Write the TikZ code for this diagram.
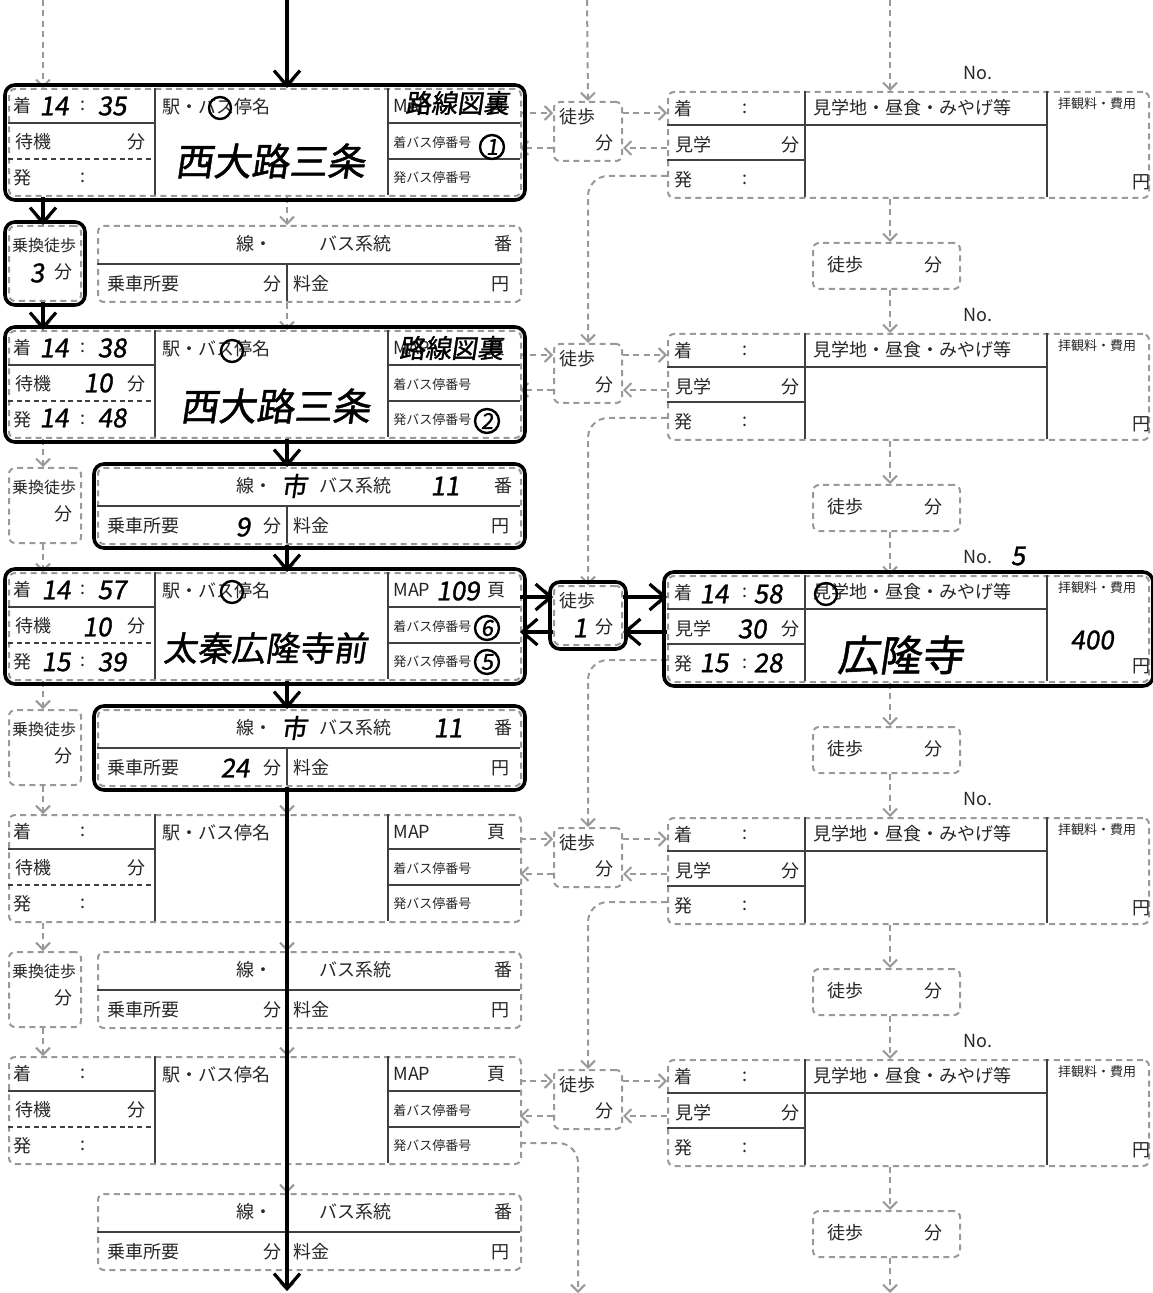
\documentclass[tikz,border=0pt]{standalone}
\usepackage{fontspec}
\setmainfont{Noto Sans CJK JP}
\newfontfamily\handfont[FakeBold=1.2,FakeSlant=0.15]{Noto Sans CJK JP}
\usetikzlibrary{arrows.meta, positioning, fit, calc}

\begin{document}
\begin{tikzpicture}[
    x=0.5pt, y=-0.5pt,
    every node/.style={font=\fontsize{9}{10}\selectfont, text=black!85, inner sep=0pt},
    formbox/.style={draw=black!40, line width=1pt, dash pattern=on 3pt off 2.2pt, rounded corners=3pt, anchor=north west},
    divline/.style={draw=black!75, line width=0.6pt},
    divdash/.style={divline, dash pattern=on 2.5pt off 1.8pt},
    flowarrow/.style={draw=black!40, line width=1pt, dash pattern=on 3pt off 2.2pt, -{Straight Barb[length=3.5pt, width=7pt]}},
    inkbox/.style={draw=black, line width=1.8pt, rounded corners=5pt, inner sep=1.5pt},
    inkarrow/.style={draw=black, line width=1.6pt, -{Straight Barb[length=7.5pt, width=13pt]}},
    inkring/.style={circle, draw=black, line width=1.2pt, minimum size=12pt},
    hw/.style={font=\handfont\fontsize{13}{13}\selectfont, text=black},
    hwbig/.style={font=\handfont\fontsize{19}{19}\selectfont, text=black},
    hwnum/.style={inkring, font=\handfont\fontsize{11}{11}\selectfont, text=black},
    lblsmall/.style={font=\fontsize{8}{9}\selectfont},
    lbltiny/.style={font=\fontsize{6.5}{7}\selectfont}
]
\useasboundingbox (0,0) rectangle (1152,1293);

% ── axes of the dashed flow ──
\coordinate (lax) at (43,0);
\coordinate (cax) at (287,0);
\coordinate (wax) at (587,0);
\coordinate (rax) at (890,0);
\coordinate (cbot) at (287,1291);
\coordinate (sbot) at (578,1293);
\coordinate (rbot) at (890,1293);

% ── printed form, one row per stop ──
\foreach \r in {0,...,4}{
  \pgfmathsetmacro\o{242*\r}
  % station
  \node[formbox, minimum width=256pt, minimum height=53.5pt] (st\r) at (8,88+\o) {};
  \draw[divline] (8,123+\o) -- (155,123+\o);
  \draw[divdash] (8,159+\o) -- (155,159+\o);
  \draw[divline] (155,88+\o) -- (155,195+\o);
  \draw[divline] (388,88+\o) -- (388,195+\o);
  \draw[divline] (388,123+\o) -- (520,123+\o);
  \draw[divline] (388,159+\o) -- (520,159+\o);
  \node (st\r-a)  at (22,106+\o) {着};
  \node (st\r-ac) at (83,106+\o) {:};
  \node (st\r-w)  at (33,142+\o) {待機};
  \node (st\r-wm) at (136,142+\o) {分};
  \node (st\r-d)  at (22,178+\o) {発};
  \node (st\r-dc) at (83,178+\o) {:};
  \node[anchor=west] (st\r-name) at (162,107+\o) {駅・バス停名};
  \node[anchor=west] (st\r-map)  at (393,106+\o) {MAP};
  \node (st\r-p) at (496,106+\o) {頁};
  \node[lbltiny, anchor=west] (st\r-in)  at (393,143+\o) {着バス停番号};
  \node[lbltiny, anchor=west] (st\r-out) at (393,178+\o) {発バス停番号};
  % bus leg
  \node[formbox, minimum width=211.5pt, minimum height=38pt] (bs\r) at (97,225+\o) {};
  \draw[divline] (97,264+\o) -- (520,264+\o);
  \draw[divline] (287,264+\o) -- (287,301+\o);
  \node[anchor=east] (bs\r-l) at (273,244+\o) {線・};
  \node (bs\r-s) at (355,244+\o) {バス系統};
  \node (bs\r-b) at (503,244+\o) {番};
  \node (bs\r-t) at (143,284+\o) {乗車所要};
  \node (bs\r-tm) at (272,284+\o) {分};
  \node (bs\r-f) at (311,284+\o) {料金};
  \node (bs\r-y) at (500,284+\o) {円};
  % side walk
  \node[formbox, minimum width=34pt, minimum height=29.5pt] (sw\r) at (553,101+\o) {};
  \node (sw\r-l) at (577,117+\o) {徒歩};
  \node (sw\r-m) at (604,143+\o) {分};
  % sight
  \node[formbox, minimum width=240.5pt, minimum height=53pt] (ss\r) at (667,91+\o) {};
  \draw[divline] (805,91+\o) -- (805,197+\o);
  \draw[divline] (1047,91+\o) -- (1047,197+\o);
  \draw[divline] (667,125+\o) -- (1047,125+\o);
  \draw[divline] (667,160+\o) -- (805,160+\o);
  \node (ss\r-no) at (978,73+\o) {No.};
  \node (ss\r-a)  at (683,109+\o) {着};
  \node (ss\r-ac) at (745,109+\o) {:};
  \node (ss\r-v)  at (693,145+\o) {見学};
  \node (ss\r-vm) at (790,145+\o) {分};
  \node (ss\r-d)  at (683,180+\o) {発};
  \node (ss\r-dc) at (745,180+\o) {:};
  \node (ss\r-h)  at (912,108+\o) {見学地・昼食・みやげ等};
  \node[lbltiny] (ss\r-f) at (1097,104+\o) {拝観料・費用};
  \node (ss\r-y)  at (1141,182+\o) {円};
  % walk to next sight
  \node[formbox, minimum width=73.5pt, minimum height=23pt] (wk\r) at (812,242+\o) {};
  \node (wk\r-l) at (845,265+\o) {徒歩};
  \node (wk\r-m) at (933,265+\o) {分};
  \coordinate (go\r)   at (520,113+\o);
  \coordinate (back\r) at (520,148+\o);
  \coordinate (dep\r)  at (667,176+\o);
}

% ── transfer boxes ──
\foreach \r in {0,...,3}{
  \pgfmathsetmacro\o{242*\r}
  \node[formbox, minimum width=36pt, minimum height=37.5pt] (tr\r) at (8,225+\o) {};
  \node[lblsmall] (tr\r-l) at (44,245+\o) {乗換徒歩};
  \node (tr\r-m) at (63,272+\o) {分};
}

% ── dashed flow ──
\draw[flowarrow] (lax) -- (st0.north -| lax);
\draw[flowarrow] (cax) -- (st0.north -| cax);
\draw[flowarrow] (wax) -- (sw0.north);
\draw[flowarrow] (rax) -- (ss0.north -| rax);
\foreach \r in {0,...,4}{
  \pgfmathtruncatemacro\n{\r+1}
  \draw[flowarrow] (st\r.south -| cax) -- (bs\r.north -| cax);
  \draw[flowarrow] (ss\r.south -| rax) -- (wk\r.north -| rax);
  \draw[flowarrow] (go\r) -- (go\r -| sw\r.west);
  \draw[flowarrow] (go\r -| sw\r.east) -- (go\r -| ss\r.west);
  \draw[flowarrow] (back\r -| ss\r.west) -- (back\r -| sw\r.east);
  \draw[flowarrow] (back\r -| sw\r.west) -- (back\r);
  \ifnum\r<4
    \draw[flowarrow] (st\r.south -| lax) -- (tr\r.north -| lax);
    \draw[flowarrow] (tr\r.south -| lax) -- (st\n.north -| lax);
    \draw[flowarrow] (bs\r.south -| cax) -- (st\n.north -| cax);
    \draw[flowarrow] (wk\r.south -| rax) -- (ss\n.north -| rax);
    \draw[flowarrow, rounded corners=10pt] (dep\r) -| (sw\n.north);
  \else
    \draw[flowarrow] (bs\r.south -| cax) -- (cbot);
    \draw[flowarrow] (wk\r.south -| rax) -- (rbot);
  \fi
}
\coordinate (sdep) at (520,1143);
\draw[flowarrow, rounded corners=10pt] (sdep) -| (sbot);

% ── handwritten route ──
\node[inkbox, fit=(st0)] (ink-st0) {};
\node[inkbox, fit=(tr0)] (ink-tr0) {};
\node[inkbox, fit=(st1)] (ink-st1) {};
\node[inkbox, fit=(bs1)] (ink-bs1) {};
\node[inkbox, fit=(st2)] (ink-st2) {};
\node[inkbox, fit=(bs2)] (ink-bs2) {};
\node[inkbox, fit=(sw2)] (ink-sw2) {};
\node[inkbox, fit=(ss2)] (ink-ss2) {};

\draw[inkarrow] (cax) -- (st0.north -| cax);
\draw[inkarrow] (st0.south -| lax) -- (tr0.north -| lax);
\draw[inkarrow] (tr0.south -| lax) -- (st1.north -| lax);
\draw[inkarrow] (st1.south -| cax) -- (bs1.north -| cax);
\draw[inkarrow] (bs1.south -| cax) -- (st2.north -| cax);
\draw[inkarrow] (st2.south -| cax) -- (bs2.north -| cax);
\draw[inkarrow] (bs2.south -| cax) -- (cbot);
\draw[inkarrow] (go2) -- (go2 -| sw2.west);
\draw[inkarrow] (go2 -| sw2.east) -- (go2 -| ss2.west);
\draw[inkarrow] (back2 -| ss2.west) -- (back2 -| sw2.east);
\draw[inkarrow] (back2 -| sw2.west) -- (back2);

% stop 1
\node[hw] (h-a0a) at (54,106) {14};
\node[hw] (h-a0b) at (112,106) {35};
\node[inkring, minimum size=11pt] (h-r0) at (220,108) {};
\node[hwbig] (h-n0) at (270,161) {西大路三条};
\node[hw] (h-m0) at (457,103) {路線図裏};
\node[hwnum] (h-i0) at (492,147) {1};
\node[hw] (h-t0) at (37,273) {3};

% stop 2
\node[hw] (h-a1a) at (54,348) {14};
\node[hw] (h-a1b) at (112,348) {38};
\node[hw] (h-w1) at (98,383) {10};
\node[hw] (h-d1a) at (54,418) {14};
\node[hw] (h-d1b) at (112,418) {48};
\node[inkring, minimum size=11pt] (h-r1) at (232,351) {};
\node[hwbig] (h-n1) at (275,406) {西大路三条};
\node[hw] (h-m1) at (451,348) {路線図裏};
\node[hwnum] (h-o1) at (487,421) {2};
\node[hw] (h-c1) at (294,486) {市};
\node[hw] (h-k1) at (445,486) {11};
\node[hw] (h-b1) at (243,527) {9};

% stop 3
\node[hw] (h-a2a) at (56,590) {14};
\node[hw] (h-a2b) at (112,590) {57};
\node[hw] (h-w2) at (97,627) {10};
\node[hw] (h-d2a) at (56,662) {15};
\node[hw] (h-d2b) at (112,662) {39};
\node[inkring, minimum size=11pt] (h-r2) at (232,592) {};
\node[hwbig, font=\handfont\fontsize{17}{17}\selectfont] (h-n2) at (265,648) {太秦広隆寺前};
\node[hw] (h-m2) at (458,591) {109};
\node[hwnum] (h-i2) at (487,628) {6};
\node[hwnum] (h-o2) at (487,662) {5};
\node[hw] (h-c2) at (294,728) {市};
\node[hw] (h-k2) at (448,728) {11};
\node[hw] (h-b2) at (235,768) {24};
\node[hw] (h-s2) at (580,628) {1};

% sight No. 5
\node[hw] (h-no2) at (1018,556) {5};
\node[hw] (h-sa2a) at (714,594) {14};
\node[hw] (h-sa2b) at (768,594) {58};
\node[hw] (h-sv2) at (752,629) {30};
\node[hw] (h-sd2a) at (714,663) {15};
\node[hw] (h-sd2b) at (768,663) {28};
\node[inkring, minimum size=11pt] (h-sr2) at (826,594) {};
\node[hwbig, font=\handfont\fontsize{21}{21}\selectfont] (h-sn2) at (900,655) {広隆寺};
\node[hw] (h-sf2) at (1092,640) {400};

\end{tikzpicture}
\end{document}
